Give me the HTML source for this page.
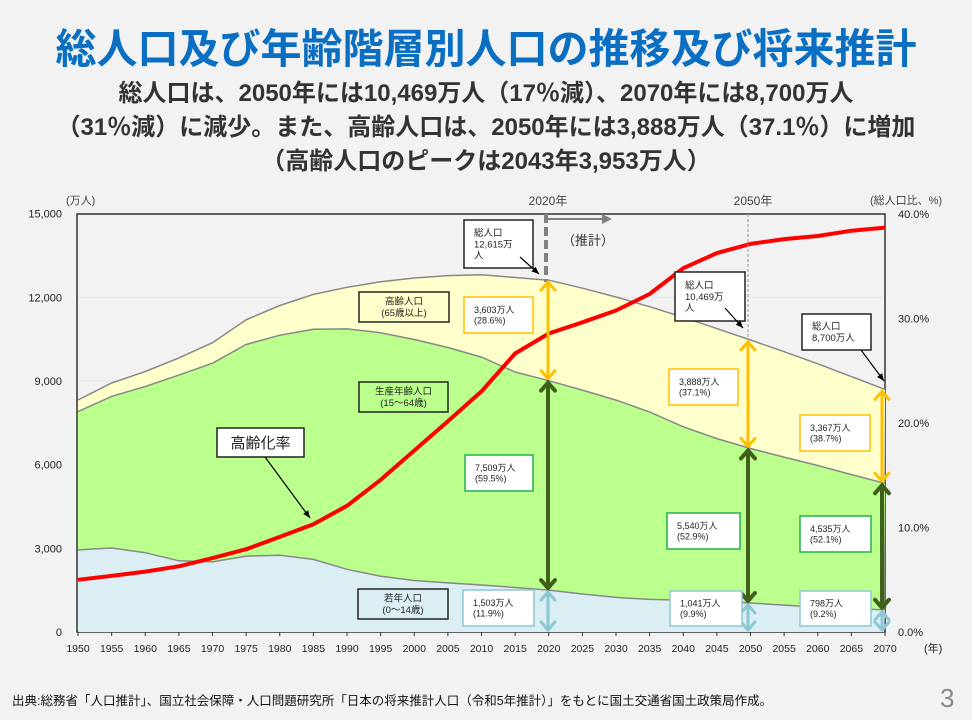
<!DOCTYPE html>
<html><head><meta charset="utf-8">
<style>
html,body{margin:0;padding:0;background:#f2f2f2;}
body{width:972px;height:720px;position:relative;overflow:hidden;font-family:"Liberation Sans","Noto Sans CJK JP",sans-serif;}
.t{position:absolute;left:0;width:972px;text-align:center;font-weight:bold;white-space:nowrap;}
</style></head><body>
<div class="t" style="top:15px;font-size:41px;color:#0a6fc2;">総人口及び年齢階層別人口の推移及び将来推計</div>
<div class="t" style="top:77px;font-size:24px;color:#333;line-height:34px;">総人口は、2050年には10,469万人（17％減）、2070年には8,700万人<br>（31％減）に減少。また、高齢人口は、2050年には3,888万人（37.1％）に増加<br>（高齢人口のピークは2043年3,953万人）</div>
<svg id="s" width="972" height="720" style="position:absolute;left:0;top:0" xmlns="http://www.w3.org/2000/svg" font-family="Liberation Sans, Noto Sans CJK JP, sans-serif"></svg>
<div style="position:absolute;left:12px;top:690px;font-size:12.5px;color:#111;">出典:総務省「人口推計」、国立社会保障・人口問題研究所「日本の将来推計人口（令和5年推計）」をもとに国土交通省国土政策局作成。</div>
<div style="position:absolute;left:940px;top:683px;font-size:26px;color:#888;">3</div>
<script>
(function(){
var T=[8320,8928,9342,9828,10372,11194,11706,12105,12361,12557,12693,12777,12806,12709,12615,12326,12012,11664,11284,10880,10469,10051,9615,9159,8700];
var Y=[2943,3012,2843,2553,2515,2722,2751,2603,2249,2001,1847,1759,1684,1595,1503,1363,1240,1169,1142,1103,1041,966,893,835,798];
var E=[416,479,540,618,733,887,1065,1247,1493,1828,2204,2576,2948,3387,3603,3653,3696,3773,3928,3945,3888,3779,3644,3517,3367];
function X(i){return 78+i*5*6.725;}
function V(v){return 632-v*0.02789;}
function P(p){return 632-p*10.45;}
var s='';
s+='<rect x="77" y="214" width="808" height="418" fill="#f2f2f2" stroke="#333" stroke-width="1.5"/>';
[3000,6000,9000,12000].forEach(function(v){s+='<line x1="78" x2="884" y1="'+V(v)+'" y2="'+V(v)+'" stroke="#e6e6e6"/>';});
function pts(f){var a=[];for(var i=0;i<25;i++)a.push(X(i).toFixed(1)+','+V(f(i)).toFixed(1));return a;}
var tp=pts(function(i){return T[i]}), md=pts(function(i){return T[i]-E[i]}), yo=pts(function(i){return Y[i]});
s+='<polygon fill="#ffffcc" points="'+tp.join(' ')+' 884,632 78,632"/>';
s+='<polygon fill="#bbff8c" points="'+md.join(' ')+' 884,632 78,632"/>';
s+='<polygon fill="#daeef3" points="'+yo.join(' ')+' 884,632 78,632"/>';
[tp,md,yo].forEach(function(p){s+='<polyline fill="none" stroke="#888" stroke-width="1.5" points="'+p.join(' ')+'"/>';});
var r=[];for(var i=0;i<25;i++)r.push(X(i).toFixed(1)+','+P(E[i]/T[i]*100).toFixed(1));
s+='<polyline fill="none" stroke="#ff0000" stroke-width="4" stroke-linejoin="round" points="'+r.join(' ')+'"/>';
var yl=['0','3,000','6,000','9,000','12,000','15,000'];
for(var k=0;k<6;k++)s+='<text x="62" y="'+(V(k*3000)+4)+'" font-size="11" text-anchor="end" fill="#222">'+yl[k]+'</text>';
var rl=['0.0%','10.0%','20.0%','30.0%','40.0%'];
for(var k=0;k<5;k++)s+='<text x="898" y="'+(P(k*10)+4)+'" font-size="11" fill="#222">'+rl[k]+'</text>';
for(var i=0;i<25;i++){s+='<line x1="'+X(i)+'" x2="'+X(i)+'" y1="632" y2="636" stroke="#333"/>';s+='<text x="'+X(i)+'" y="652" font-size="10.5" text-anchor="middle" fill="#222">'+(1950+i*5)+'</text>';}
s+='<text x="924" y="652" font-size="11" fill="#222">(年)</text>';
s+='<text x="66" y="204" font-size="11" fill="#444">(万人)</text>';
s+='<text x="870" y="204" font-size="11" fill="#444">(総人口比、%)</text>';
s+='<text x="548" y="205" font-size="12" text-anchor="middle" fill="#444">2020年</text>';
s+='<text x="753" y="205" font-size="12" text-anchor="middle" fill="#444">2050年</text>';
s+='<line x1="546" x2="546" y1="214" y2="282" stroke="#808080" stroke-width="4" stroke-dasharray="9,4"/>';
s+='<line x1="548" x2="604" y1="219" y2="219" stroke="#808080" stroke-width="2"/><polygon points="612,219 602,214 602,224" fill="#808080"/>';
s+='<text x="562" y="245" font-size="13" fill="#333">（推計）</text>';
s+='<line x1="748" x2="748" y1="214" y2="340" stroke="#999" stroke-width="1" stroke-dasharray="3,2"/>';
function darr(x,y1,y2,c,w){var o='<line x1="'+x+'" x2="'+x+'" y1="'+(y1+2)+'" y2="'+(y2-2)+'" stroke="'+c+'" stroke-width="'+w+'"/>';
o+='<polyline fill="none" stroke="'+c+'" stroke-width="'+w+'" stroke-linecap="round" points="'+(x-7)+','+(y1+10)+' '+x+','+(y1+2)+' '+(x+7)+','+(y1+10)+'"/>';
o+='<polyline fill="none" stroke="'+c+'" stroke-width="'+w+'" stroke-linecap="round" points="'+(x-7)+','+(y2-10)+' '+x+','+(y2-2)+' '+(x+7)+','+(y2-10)+'"/>';return o;}
[[14,548],[20,748],[24,882]].forEach(function(a){var i=a[0],x=a[1];
s+=darr(x,V(T[i]),V(T[i]-E[i]),'#ffc000',3);
s+=darr(x,V(T[i]-E[i]),V(Y[i]),'#3f5f1a',4);
s+=darr(x,V(Y[i]),632,'#8cc7d4',3);});
function box(x1,y1,x2,y2,c,lines,fs,fill,al){var o='<rect x="'+x1+'" y="'+y1+'" width="'+(x2-x1)+'" height="'+(y2-y1)+'" fill="'+(fill||'#fff')+'" stroke="'+c+'" stroke-width="1.5"/>';
var n=lines.length,lh=fs*1.2,st=(y1+y2)/2-(n-1)*lh/2+fs*0.35;
for(var k=0;k<n;k++){o+= al=='m'?'<text x="'+(x1+x2)/2+'" y="'+(st+k*lh)+'" font-size="'+fs+'" text-anchor="middle" fill="#222">'+lines[k]+'</text>':'<text x="'+(x1+10)+'" y="'+(st+k*lh)+'" font-size="'+fs+'" fill="#222">'+lines[k]+'</text>';}return o;}
s+=box(359,292,449,322,'#222',['高齢人口','(65歳以上)'],9.5,'#ffffcc','m');
s+=box(359,382,448,412,'#222',['生産年齢人口','(15～64歳)'],9.5,'#bbff8c','m');
s+=box(358,589,448,619,'#222',['若年人口','(0～14歳)'],9.5,'#daeef3','m');
s+=box(217,428,304,457,'#222',['高齢化率'],15,'#fff','m');
s+=box(464,220,533,268,'#222',['総人口','12,615万','人'],9.5);
s+=box(675,272,745,321,'#222',['総人口','10,469万','人'],9.5);
s+=box(802,314,871,350,'#222',['総人口','8,700万人'],9.5);
s+=box(464,297,533,333,'#ffc000',['3,603万人','(28.6%)'],9);
s+=box(669,369,738,405,'#ffc000',['3,888万人','(37.1%)'],9);
s+=box(800,415,870,451,'#ffc000',['3,367万人','(38.7%)'],9);
s+=box(465,455,533,491,'#22b14c',['7,509万人','(59.5%)'],9);
s+=box(667,513,740,549,'#22b14c',['5,540万人','(52.9%)'],9);
s+=box(800,516,871,552,'#22b14c',['4,535万人','(52.1%)'],9);
s+=box(463,590,534,626,'#8cc7d4',['1,503万人','(11.9%)'],9);
s+=box(670,591,742,626,'#8cc7d4',['1,041万人','(9.9%)'],9);
s+=box(800,591,871,626,'#8cc7d4',['798万人','(9.2%)'],9);
function ptr(x1,y1,x2,y2){var a=Math.atan2(y2-y1,x2-x1),l=8;return '<line x1="'+x1+'" y1="'+y1+'" x2="'+x2+'" y2="'+y2+'" stroke="#000" stroke-width="1.2"/><polygon fill="#000" points="'+x2+','+y2+' '+(x2-l*Math.cos(a-0.4))+','+(y2-l*Math.sin(a-0.4))+' '+(x2-l*Math.cos(a+0.4))+','+(y2-l*Math.sin(a+0.4))+'"/>';}
s+=ptr(520,257,539,274);
s+=ptr(725,308,743,328);
s+=ptr(861,350,884,381);
s+=ptr(265,457,310,518);
document.getElementById('s').innerHTML=s;
})();
</script>
</body></html>
